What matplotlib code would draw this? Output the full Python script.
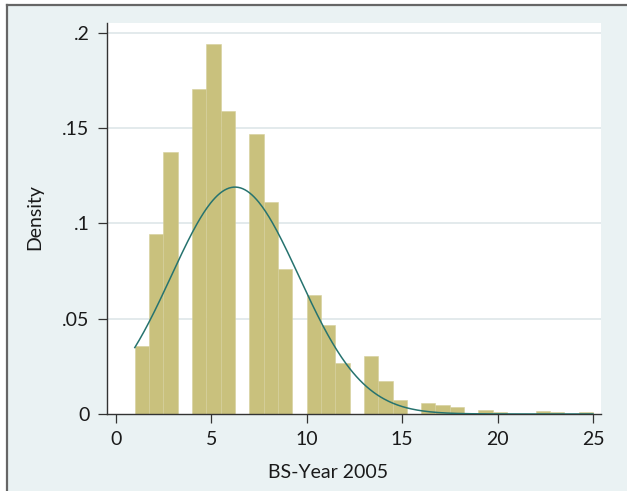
import numpy as np
import matplotlib
matplotlib.use('Agg')
import matplotlib.pyplot as plt
from matplotlib.patches import Rectangle
from matplotlib.lines import Line2D

plt.rcParams['font.family'] = ['Lato', 'DejaVu Sans']

# Integer values of BS-Year 2005 and histogram density per value
values = list(range(1, 26))
density = [0.0357, 0.0943, 0.1374, 0.1704, 0.1944, 0.1591, 0.1468, 0.1113,
           0.0759, 0.0626, 0.0466, 0.0266, 0.0302, 0.0173, 0.0073, 0.0058,
           0.0049, 0.0037, 0.0023, 0.0008, 0.0, 0.0016, 0.0008, 0.0, 0.0008]
n_bins = 32

# Normal density overlay
norm_mean = 6.25
norm_sd = 3.35

y_ticks = [0, 0.05, 0.1, 0.15, 0.2]
y_labels = ['0', '.05', '.1', '.15', '.2']
x_ticks = [0, 5, 10, 15, 20, 25]

W, H = 627, 491
fig = plt.figure(figsize=(W / 100, H / 100), dpi=100)
fig.patch.set_facecolor('white')

# Stata-like outer graph region with frame on left/top
bg = '#EAF2F3'
fig.patches.append(Rectangle((7 / W, 0), 1 - 7 / W, 1 - 5 / H, transform=fig.transFigure,
                             facecolor=bg, edgecolor='none', zorder=-5))
fig.lines.append(Line2D([7 / W, 7 / W], [0, 1 - 5 / H], transform=fig.transFigure,
                        color='#666666', linewidth=1.6, zorder=-4))
fig.lines.append(Line2D([7 / W, 1], [1 - 5 / H, 1 - 5 / H], transform=fig.transFigure,
                        color='#666666', linewidth=1.6, zorder=-4))

ax = fig.add_axes([107 / W, 1 - 414 / H, (601 - 107) / W, (414 - 23) / H])
ax.set_zorder(2)
ax.set_facecolor('white')

edges = np.linspace(min(values), max(values), n_bins + 1)
ax.hist(values, bins=edges, weights=density, color='#C9C17D',
        edgecolor='#D6CF9C', linewidth=0.4, zorder=2)

xs = np.linspace(min(values), max(values), 400)
pdf = np.exp(-0.5 * ((xs - norm_mean) / norm_sd) ** 2) / (norm_sd * np.sqrt(2 * np.pi))
ax.plot(xs, pdf, color='#26736F', linewidth=1.1, zorder=3)

ax.set_xlim(-0.456, 25.42)
ax.set_ylim(0, 0.2052)
ax.set_yticks(y_ticks)
ax.set_yticklabels(y_labels)
ax.set_xticks(x_ticks)

for yv in y_ticks[1:]:
    ax.axhline(yv, color='#E0E8EA', linewidth=1.3, zorder=1)

for s in ['top', 'right']:
    ax.spines[s].set_visible(False)
for s in ['left', 'bottom']:
    ax.spines[s].set_color('#333333')
    ax.spines[s].set_linewidth(1.0)

ax.tick_params(axis='both', direction='out', length=6.5, width=0.9, color='#333333',
               labelsize=14, labelcolor='#1a1a1a', pad=6)

fig.text(328 / W, 1 - 473 / H, 'BS-Year 2005', ha='center', va='center',
         fontsize=14, color='#1a1a1a')
fig.text(35 / W, 1 - 217 / H, 'Density', ha='center', va='center', rotation=90,
         fontsize=14, color='#1a1a1a')

fig.savefig('out.png', dpi=100, facecolor=fig.get_facecolor())
